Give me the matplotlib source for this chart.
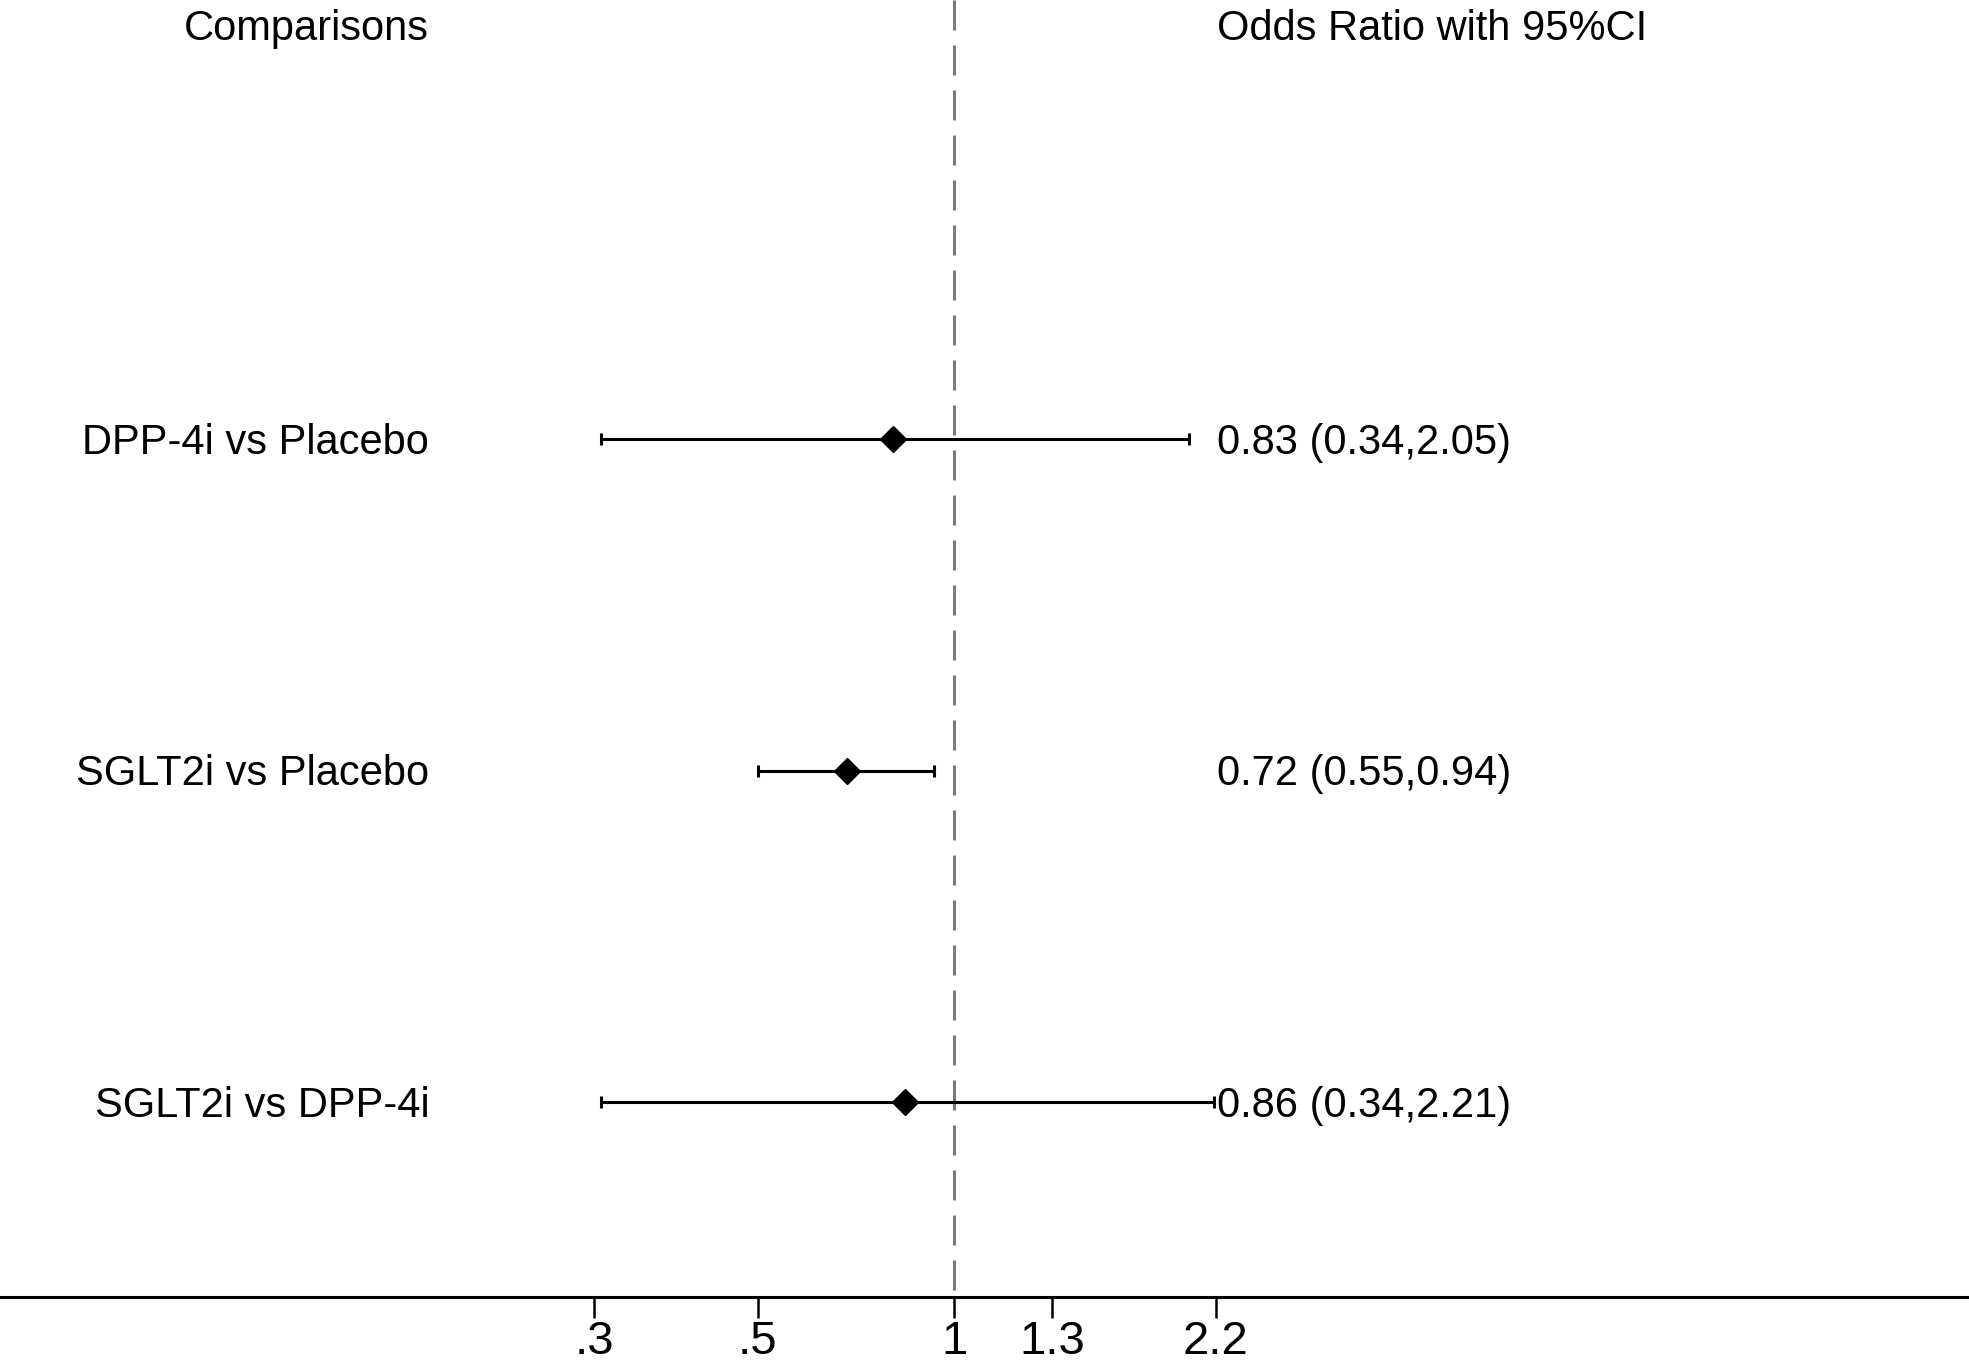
import matplotlib
matplotlib.use("Agg")
import matplotlib.pyplot as plt
import numpy as np

plt.rcParams['font.family'] = ['Liberation Sans', 'DejaVu Sans']

comparisons = ['DPP-4i vs Placebo', 'SGLT2i vs Placebo', 'SGLT2i vs DPP-4i']
odds_ratio = [0.83, 0.72, 0.86]
ci_low = [0.34, 0.55, 0.34]
ci_high = [2.05, 0.94, 2.21]
tick_logs = [-1.1, -0.6, 0.0, 0.3, 0.8]
tick_labels = ['.3', '.5', '1', '1.3', '2.2']

rows = np.arange(len(comparisons), 0, -1)  # top to bottom: 3, 2, 1
or_arr = np.array(odds_ratio)
err = np.vstack([or_arr - np.array(ci_low), np.array(ci_high) - or_arr])

fig = plt.figure(figsize=(19.69, 13.67), dpi=100)
ax = fig.add_axes([0, 0.0512, 1, 0.9488])
ax.set_xscale('log')
ax.set_xlim(np.exp(-2.916), np.exp(3.102))
ytop, ybot = 4.324, 0.412
ax.set_ylim(ybot, ytop)

# reference line at OR = 1, dashes start from the top
lw_ref = 2.2
ax.plot([1, 1], [ytop, ybot], color='#7a7a7a', lw=lw_ref,
        linestyle=(0, (21.6 / lw_ref, 10.8 / lw_ref)), zorder=1)

ax.errorbar(odds_ratio, rows, xerr=err, fmt='none', ecolor='black',
            elinewidth=2.2, capsize=4.3, capthick=2.2, zorder=2)
ax.plot(odds_ratio, rows, 'D', color='black', ms=13, zorder=3)

fs = 30
for y, name, o, lo, hi in zip(rows, comparisons, odds_ratio, ci_low, ci_high):
    ax.text(0.218, y - 0.045, name, transform=ax.get_yaxis_transform(),
            ha='right', va='baseline', fontsize=fs)
    ax.text(0.618, y - 0.045, f'{o:.2f} ({lo:.2f},{hi:.2f})',
            transform=ax.get_yaxis_transform(),
            ha='left', va='baseline', fontsize=fs)

ax.text(0.218, 4.203, 'Comparisons', transform=ax.get_yaxis_transform(),
        ha='right', va='baseline', fontsize=fs)
ax.text(0.618, 4.203, 'Odds Ratio with 95%CI', transform=ax.get_yaxis_transform(),
        ha='left', va='baseline', fontsize=fs)

for s in ['top', 'left', 'right']:
    ax.spines[s].set_visible(False)
ax.spines['bottom'].set_linewidth(2.2)
ax.set_yticks([])
ax.set_xticks(np.exp(tick_logs))
ax.set_xticklabels(tick_labels)
ax.xaxis.set_minor_locator(matplotlib.ticker.NullLocator())
ax.tick_params(axis='x', direction='out', length=15, width=1.8,
               labelsize=34, pad=1.5)

fig.savefig('out.png', dpi=100)
